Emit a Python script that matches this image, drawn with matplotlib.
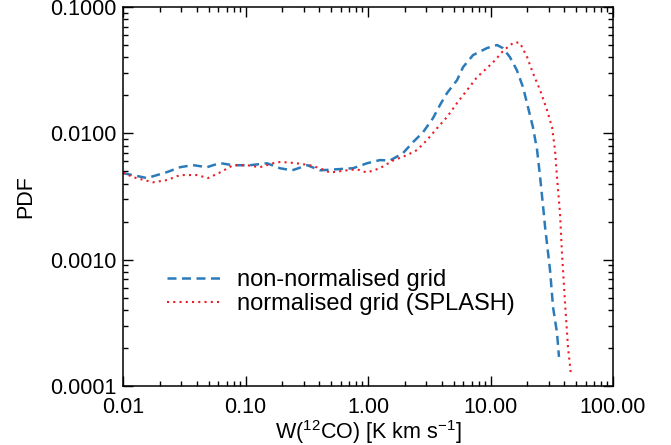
import numpy as np
import matplotlib
matplotlib.use("Agg")
import matplotlib.pyplot as plt
from matplotlib.ticker import LogLocator, FormatStrFormatter, NullFormatter

plt.rcParams['font.family'] = ['Liberation Sans', 'DejaVu Sans']
plt.rcParams['mathtext.fontset'] = 'custom'
plt.rcParams['mathtext.rm'] = 'Liberation Sans'
plt.rcParams['mathtext.it'] = 'Liberation Sans:italic'

# non-normalised grid (blue dashed)
x_blue = [0.01, 0.0157, 0.0229, 0.0292, 0.0372, 0.0484, 0.0618, 0.079, 0.109, 0.150,
          0.191, 0.24, 0.32, 0.405, 0.556, 0.755, 0.98, 1.25, 1.51, 1.93, 2.33, 2.81,
          3.39, 3.87, 4.42, 5.33, 5.97, 7.2, 9.36, 11.3, 12.6, 14.4, 16.4, 18.4, 20.2,
          22.2, 24.0, 25.4, 26.9, 27.9, 30.6, 32.4, 34.9, 36.2]
y_blue = [0.00485, 0.00443, 0.00494, 0.0054, 0.00561, 0.0054, 0.00582, 0.0056, 0.0056,
          0.0058, 0.0053, 0.0051, 0.0056, 0.0051, 0.0052, 0.0053, 0.0058, 0.00615, 0.0061,
          0.00698, 0.00853, 0.0102, 0.0132, 0.0168, 0.0209, 0.0264, 0.0335, 0.0417, 0.0474,
          0.0501, 0.0474, 0.0402, 0.0317, 0.0233, 0.0162, 0.0112, 0.00738, 0.00451, 0.0026,
          0.00181, 0.00083, 0.00042, 0.000263, 0.00017]

# normalised grid, SPLASH (red dotted)
x_red = [0.01, 0.0121, 0.0176, 0.0229, 0.0292, 0.0402, 0.0494, 0.0618, 0.079, 0.103,
         0.131, 0.181, 0.218, 0.262, 0.336, 0.405, 0.49, 0.67, 0.81, 0.98, 1.25, 1.60,
         2.08, 2.51, 3.03, 3.66, 4.42, 5.33, 6.43, 7.76, 9.36, 10.9, 12.4, 14.4, 15.8,
         17.4, 19.9, 22.2, 25.4, 28.9, 31.8, 33.6, 34.9, 36.9, 38.3, 40.6, 42.9, 45.4]
y_red = [0.0049, 0.0045, 0.0041, 0.00427, 0.00468, 0.00468, 0.00443, 0.0049, 0.0056,
         0.0056, 0.0054, 0.00593, 0.0059, 0.0058, 0.0056, 0.0053, 0.0049, 0.0051, 0.0052,
         0.0049, 0.0053, 0.0061, 0.00673, 0.00738, 0.00885, 0.0110, 0.0135, 0.0174, 0.0220,
         0.0279, 0.0329, 0.038, 0.044, 0.050, 0.0528, 0.052, 0.0402, 0.030, 0.022, 0.0153,
         0.0112, 0.0074, 0.0045, 0.00234, 0.00113, 0.00045, 0.000203, 0.000122]

fig = plt.figure(figsize=(6.71, 4.45), dpi=100)
ax = fig.add_axes([0.1833, 0.1326, 0.7303, 0.8514])

ax.plot(x_blue, y_blue, color='#2b7bba', lw=1.8, dashes=(3.6, 2.2),
        label='non-normalised grid')
ax.plot(x_red, y_red, color='#ee1c25', lw=1.5, dashes=(1, 2),
        label='normalised grid (SPLASH)')

ax.set_xscale('log')
ax.set_yscale('log')
ax.set_xlim(0.01, 100)
ax.set_ylim(1e-4, 0.1)

ax.xaxis.set_major_formatter(FormatStrFormatter('%.2f'))
ax.yaxis.set_major_formatter(FormatStrFormatter('%.4f'))
ax.xaxis.set_minor_locator(LogLocator(base=10, subs=np.arange(2, 10)))
ax.yaxis.set_minor_locator(LogLocator(base=10, subs=np.arange(2, 10)))
ax.xaxis.set_minor_formatter(NullFormatter())
ax.yaxis.set_minor_formatter(NullFormatter())

for s in ax.spines.values():
    s.set_linewidth(1.1)
ax.tick_params(which='both', direction='in', top=True, right=True, width=1.0,
               labelsize=15.5, colors='black')
ax.tick_params(which='major', length=7.2)
ax.tick_params(which='minor', length=3.6)
ax.tick_params(axis='x', pad=8)
ax.tick_params(axis='y', pad=5)

ax.set_xlabel(r'W($^{\mathregular{12}}$CO) [K km s$^{\mathregular{-1}}$]', fontsize=15.5, labelpad=0)
ax.set_ylabel('PDF', fontsize=15.5, labelpad=10)

ax.legend(loc='center left', bbox_to_anchor=(0.09, 0.247), frameon=False,
          borderaxespad=0, borderpad=0,
          fontsize=17, handlelength=2.33, handletextpad=0.64, labelspacing=0.08)

fig.savefig('out.png', dpi=100)
